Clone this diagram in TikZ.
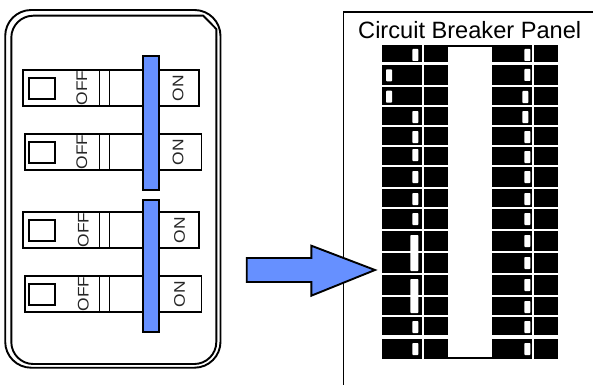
\documentclass[tikz,border=0pt]{standalone}
\usepackage{fontspec}
\setmainfont{Liberation Sans}
\newfontfamily\swfont[FakeStretch=1.13]{Liberation Sans}
\definecolor{leverblue}{HTML}{6690FF}
\tikzset{
  ln/.style={draw=black,line width=1.9pt},
  switchbox/.style={ln,fill=white},
  lever/.style={ln,fill=leverblue,line join=miter},
  blockfill/.style={fill=black,draw=none},
  handlefill/.style={fill=white,draw=none,rounded corners=0.8pt},
  swtext/.style={font=\swfont\fontsize{15.4}{15.4}\selectfont,text=black!85,rotate=90,inner sep=0pt},
}
\newcommand{\breaker}[3]{% left x, top y, text x shift
  \pgfmathsetmacro{\xl}{#1}\pgfmathsetmacro{\yt}{#2}
  \draw[switchbox] (\xl,\yt) rectangle (\xl+176.5,\yt+36);
  \draw[ln] (99.5,\yt) -- (99.5,\yt+36) (109.5,\yt) -- (109.5,\yt+36);
  \draw[ln] (29,\yt+8) rectangle (55.3,\yt+29);
  \node[swtext] (off#3) at (81.7+#3,\yt+18) {OFF};
  \node[swtext] (on#3x) at (178+#3,\yt+18) {ON};
}
\begin{document}
\begin{tikzpicture}[x=1pt,y=-1pt]
\useasboundingbox (0,0) rectangle (593,385);
% enclosure
\draw[ln,rounded corners=26pt] (5.2,10) rectangle (220.5,367.7);
\draw[ln,rounded corners=22pt] (216.3,40) -- (216.3,364) -- (11.3,364) -- (11.3,15.7) -- (190,15.7);
\draw[ln,line join=round] (190,15.7) -- (203.3,15.7) -- (216.3,29) -- (216.3,40);
% switches
\breaker{22.8}{70}{0}
\begin{scope}
\breaker{25}{134}{0}
\end{scope}
\begin{scope}
\breaker{22.8}{212}{1.5}
\end{scope}
\begin{scope}
\breaker{25}{276}{1.5}
\end{scope}
\draw[lever] (143.3,56) rectangle (159.3,190);
\draw[lever] (143.3,200) rectangle (159.3,332);
% panel
\draw[ln] (593,12) -- (343.5,12) -- (343.5,385);
\node[font=\fontsize{23.6}{24}\selectfont,inner sep=0pt] (title) at (469.7,30) {Circuit Breaker Panel};
\draw[blockfill] (448,45) rectangle (493,47);
\draw[blockfill] (448,357) rectangle (493,359);
\foreach \a/\b in {45/61.7,65/85,87/105,107/125,127/145,147/165,167/187,189/206.7,209/229,231/251,253/273,275/295,297/315,317/335,339/359}{
  \fill[blockfill] (382,\a) rectangle (422,\b);
  \fill[blockfill] (424.3,\a) rectangle (448.3,\b);
  \fill[blockfill] (492.3,\a) rectangle (532.3,\b);
  \fill[blockfill] (534.3,\a) rectangle (558.3,\b);
}
% left column handles
\foreach \a in {49,111,131,149,171,193,213,321,343}{
  \fill[handlefill] (412.3,\a) rectangle (418.3,\a+12);
}
\foreach \a in {69.3,90.7}{
  \fill[handlefill] (386,\a) rectangle (392,\a+12);
}
\fill[handlefill] (410.3,235) rectangle (418.3,271);
\fill[handlefill] (410.3,279) rectangle (418.3,313);
% right column handles
\foreach \a in {49,69,131,151,171,193,213,235,257,279,301,321,343}{
  \fill[handlefill] (524.3,\a) rectangle (530.3,\a+12);
}
\foreach \a in {91,111}{
  \fill[handlefill] (522.3,\a) rectangle (528.3,\a+12);
}
% arrow
\draw[lever] (246.7,258) -- (311.3,258) -- (311.3,245.7) -- (375,270) -- (311.3,295.7) -- (311.3,282) -- (246.7,282) -- cycle;
\end{tikzpicture}
\end{document}
